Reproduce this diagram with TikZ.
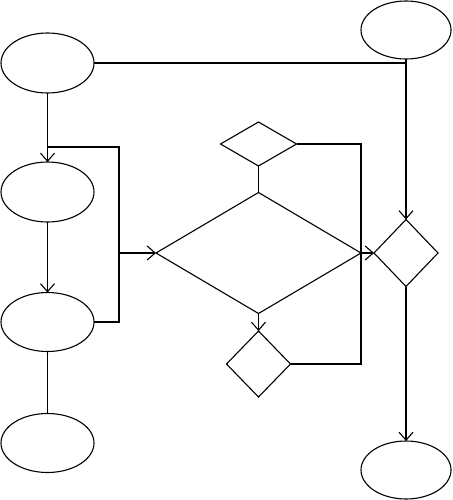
\documentclass[tikz,border=0pt]{standalone}
\usetikzlibrary{shapes.geometric,arrows.meta}
\begin{document}
\begin{tikzpicture}[x=1pt,y=-1pt,line width=1.1pt,
  oval/.style={draw,ellipse,inner sep=0pt,outer sep=0pt,minimum width=93pt,minimum height=60pt},
  dia/.style={draw,diamond,inner sep=0pt,outer sep=0pt},
  arr/.style={-{Straight Barb[length=8pt,width=14pt]}}]
\useasboundingbox (0,0) rectangle (452,500);
\node[oval] (A) at (47.5,63) {};
\node[oval,minimum width=90pt,minimum height=58pt] (B) at (406,30) {};
\node[oval] (C) at (47.5,192) {};
\node[oval,minimum height=59pt] (D) at (47.5,322) {};
\node[oval,minimum height=59pt] (E) at (47.5,443) {};
\node[oval,minimum width=90pt,minimum height=58pt] (F) at (406,470) {};
\node[dia,minimum width=205pt,minimum height=121pt] (M) at (258.5,253) {};
\node[dia,minimum width=76pt,minimum height=44pt] (T) at (258.5,144) {};
\node[dia,minimum width=64pt,minimum height=66pt] (S) at (258.5,364) {};
\node[dia,minimum width=64pt,minimum height=67pt] (R) at (406,253) {};
\coordinate (j1) at (119,147);
\coordinate (j2) at (119,253);
\coordinate (k) at (361,364);
\draw[arr] (A.south) -- (C.north);
\draw (A.east) -- (A.east -| B.south);
\draw[arr] (B.south) -- (R.north);
\draw[arr] (C.south) -- (D.north);
\draw (D.south) -- (E.north);
\draw (D.east) -| (j1) -- (j1 -| A.south);
\draw[arr] (j2) -- (M.west);
\draw (T.south) -- (M.north);
\draw (T.east) -| (k) -- (S.east);
\draw[arr] (M.east) -- (R.west);
\draw[arr] (M.south) -- (S.north);
\draw[arr] (R.south) -- (F.north);
\end{tikzpicture}
\end{document}
